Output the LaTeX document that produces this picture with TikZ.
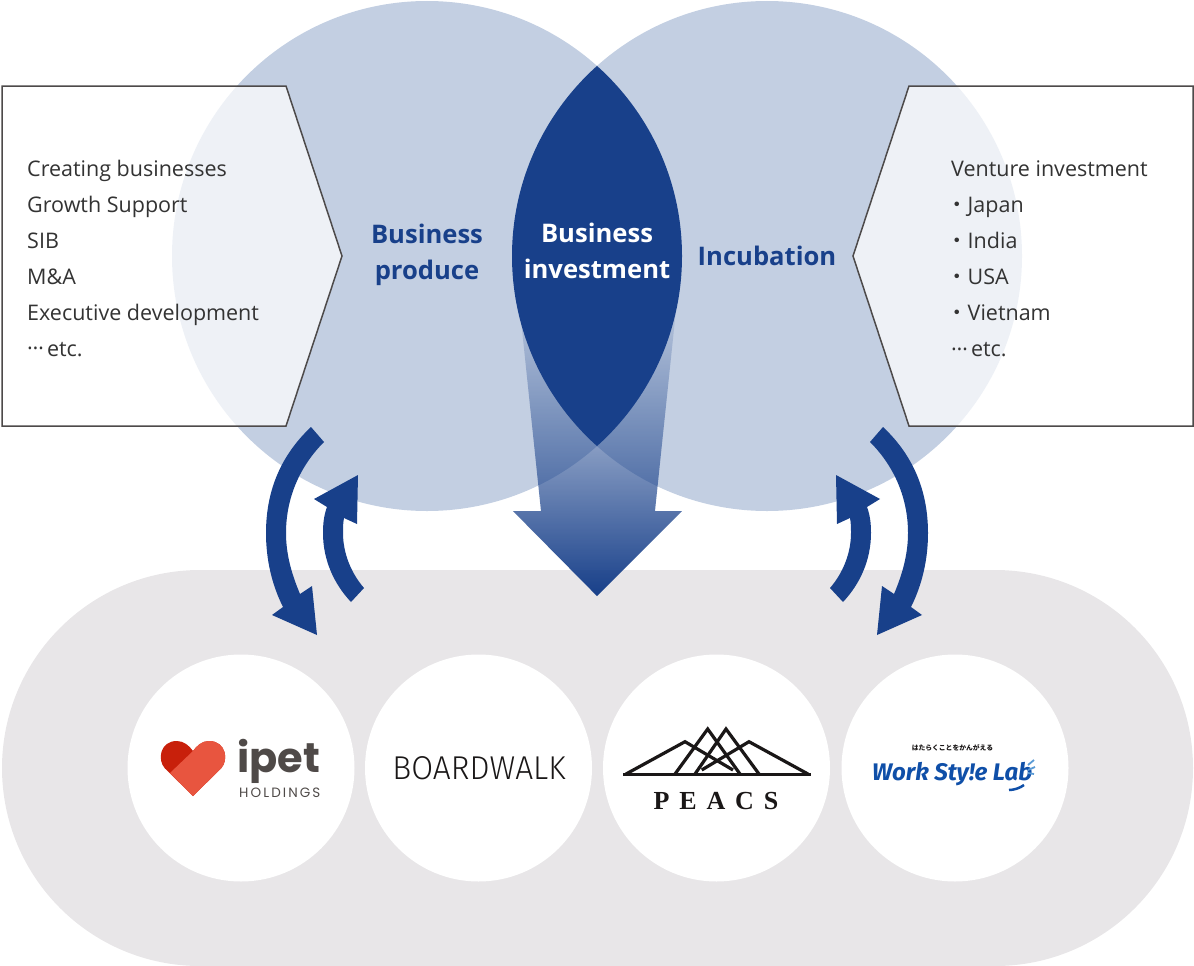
\documentclass[tikz,border=0pt]{standalone}
\usepackage{fontspec}
\setmainfont{Open Sans}
\newfontfamily\cjk{Noto Sans CJK JP}
\newfontfamily\logofont{Poppins}
\newfontfamily\thinfont{Fira Sans Light}
\newfontfamily\serifont{Liberation Serif}
\newfontfamily\workfont{Fira Sans}
\usetikzlibrary{fadings}
\definecolor{darkblue}{HTML}{18408A}
\definecolor{lightblue}{HTML}{C3CFE2}
\definecolor{palegrey}{HTML}{E8E6E8}
\definecolor{boxline}{HTML}{4D4A4A}
\definecolor{bodytext}{HTML}{333333}
\definecolor{ipetdark}{HTML}{C8200B}
\definecolor{ipetlight}{HTML}{E8553F}
\definecolor{ipetgrey}{HTML}{4F4A48}
\definecolor{peacsblack}{HTML}{1A1717}
\definecolor{workblue}{HTML}{0F4FA8}
\definecolor{worksky}{HTML}{5B9BD5}
\newcommand{\listdot}{{\cjk\hspace{-5pt}・}}
\newcommand{\listetc}{\raisebox{.28em}{…}\hspace{3pt}etc.}
\tikzfading[name=arrowfade, top color=transparent!92, bottom color=transparent!0, fading transform={yscale=2}]
\tikzset{
  listtext/.style={anchor=west, inner sep=0, align=left, text=bodytext, font=\fontsize{21.5}{36}\selectfont},
  venntext/.style={inner sep=0, align=center, font=\fontsize{25.6}{36}\selectfont\bfseries},
  logocircle/.style={circle, fill=white, minimum size=227pt, inner sep=0},
  sidebox/.style={draw=boxline, line width=1.5pt, fill=white, fill opacity=0.72},
  peacsline/.style={draw=peacsblack, line width=3.2pt, line join=miter}
}
\begin{document}
\begin{tikzpicture}[x=1pt,y=-1pt]
\useasboundingbox (0,0) rectangle (1194,966);
\fill[palegrey, rounded corners=198pt] (2,570) rectangle (1193,966);
\fill[lightblue] (427,256) circle (255);
\fill[lightblue] (767,256) circle (255);
\begin{scope}
\clip (427,256) circle (255);
\fill[darkblue] (767,256) circle (255);
\end{scope}
\fill[darkblue, path fading=arrowfade] (520,310) -- (541,511) -- (513,511) -- (597,596) -- (682,511) -- (655,511) -- (676,310) -- cycle;
\draw[sidebox] (2,86) -- (286,86) -- (342,256) -- (286,426) -- (2,426) -- cycle;
\draw[sidebox] (1193,86) -- (909,86) -- (853,256) -- (909,426) -- (1193,426) -- cycle;
\node[listtext] (leftlist) at (27,258) {Creating businesses\\Growth Support\\SIB\\M\&A\\Executive development\\\listetc};
\node[listtext] (rightlist) at (951,259) {Venture investment\\\listdot Japan\\\listdot India\\\listdot USA\\\listdot Vietnam\\\listetc};
\node[venntext, text=darkblue] (produce) at (427,255) {Business\\produce};
\node[venntext, text=white] (investment) at (597,251) {Business\\investment};
\node[venntext, text=darkblue] (incubation) at (767,256) {Incubation};
\foreach \xflip/\xmove in {1/0,-1/1194} {
\begin{scope}[xshift=\xmove pt, xscale=\xflip]
\fill[darkblue] (311,427) .. controls (278,458) and (266,495) .. (266,533) .. controls (266,560) and (272,585) .. (283,607) -- (272,615) -- (317,635) -- (312,586) -- (300,594) .. controls (292,575) and (286,555) .. (286,533) .. controls (286,499) and (299,467) .. (324,442) -- cycle;
\fill[darkblue] (351,602) .. controls (334,584) and (323,560) .. (323,533) .. controls (323,523) and (324,515) .. (327,507) -- (314,499) -- (358,475) -- (357,524) -- (344,518) .. controls (343,523) and (343,528) .. (343,533) .. controls (343,553) and (351,573) .. (364,588) -- cycle;
\end{scope}
}
\node[logocircle] (ipetcircle) at (241,768) {};
\node[logocircle] (boardcircle) at (478.5,768) {};
\node[logocircle] (peacscircle) at (716.5,768) {};
\node[logocircle] (workcircle) at (955,768) {};
\fill[ipetdark] (193,796) -- (165,768.5) .. controls (157,760) and (160,741) .. (176.7,741) .. controls (184,741) and (189,745.5) .. (193,751) .. controls (197,745.5) and (202,741) .. (209,741) .. controls (226,741) and (229,760) .. (221,768.5) -- cycle;
\fill[ipetlight] (193,796) -- (170,773) -- (193,751) .. controls (197,745.5) and (202,741) .. (209,741) .. controls (226,741) and (229,760) .. (221,768.5) -- cycle;
\node[inner sep=0, anchor=base west, text=ipetgrey, font=\logofont\fontsize{41.5}{41}\selectfont\bfseries] (ipetname) at (237,772) {ipet};
\node[inner sep=0, anchor=base west, text=ipetgrey, font=\logofont\fontsize{13.5}{14}\selectfont\addfontfeature{LetterSpace=15.5}] (ipethold) at (239,797) {HOLDINGS};
\node[inner sep=0, text=peacsblack, font=\thinfont\fontsize{33}{33}\selectfont] (boardname) at (479,768) {\scalebox{.96}[1]{BOARDWALK}};
\draw[peacsline] (623,774.5) -- (811,774.5);
\draw[peacsline] (626,774) -- (685,741.7) -- (733,770);
\draw[peacsline] (675,774) -- (707.7,729) -- (740,774);
\draw[peacsline] (695,774) -- (726,729) -- (759,774);
\draw[peacsline] (808,774) -- (749,741.7) -- (701.7,770);
\node[inner sep=0, anchor=base, text=peacsblack, font=\serifont\fontsize{26}{26}\selectfont\bfseries\addfontfeature{LetterSpace=38}] (peacsname) at (716,809) {PEACS};
\node[inner sep=0, text=peacsblack, font=\cjk\fontsize{6.8}{8}\selectfont\bfseries] (worktag) at (952.5,747.5) {はたらくことをかんがえる};
\node[inner sep=0, anchor=base west, text=workblue, font=\workfont\fontsize{24}{24}\selectfont\bfseries\itshape] (workname) at (872,780) {Work Sty!e Lab};
\draw[workblue, line width=2.5pt] (1009,790) .. controls (1014,790) and (1020,788) .. (1024,785);
\draw[worksky, line width=1.8pt] (1028,765) -- (1034,760);
\draw[worksky, line width=1.8pt] (1028,770) -- (1035,767);
\draw[worksky, line width=1.8pt] (1028,773) -- (1034,774);
\end{tikzpicture}
\end{document}
